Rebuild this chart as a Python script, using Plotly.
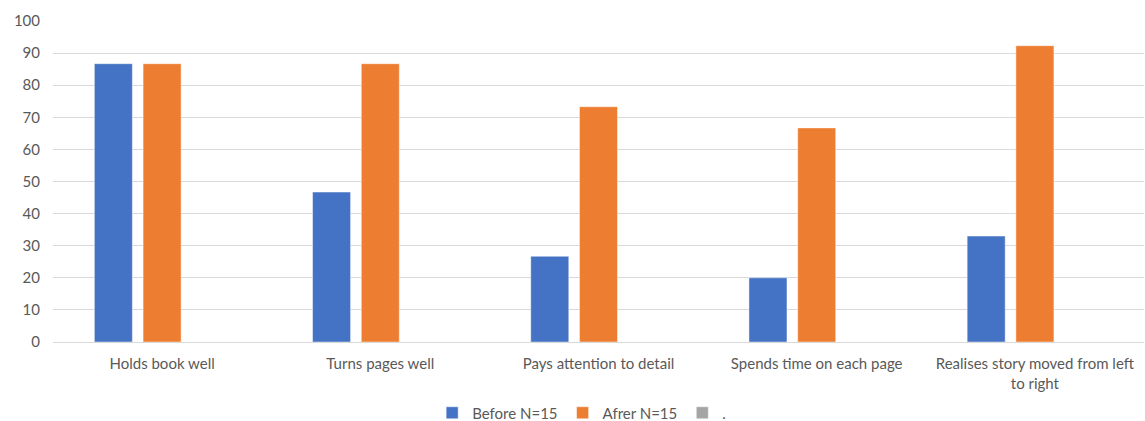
import plotly.graph_objects as go

categories = ["Holds book well", "Turns pages well", "Pays attention to detail",
              "Spends time on each page", "Realises story moved from left<br>to right"]
before = [86.7, 46.7, 26.7, 20, 33]
after = [86.7, 86.7, 73.3, 66.7, 92.3]
blank = [None, None, None, None, None]

font_fam = "Lato, 'Open Sans', sans-serif"
grey = "#595959"
edge = dict(width=1, color="rgba(255,255,255,0.45)")

fig = go.Figure()
fig.add_trace(go.Bar(x=categories, y=before, name="Before N=15", marker=dict(color="#4472C4", line=edge)))
fig.add_trace(go.Bar(x=categories, y=after, name="Afrer N=15", marker=dict(color="#ED7D31", line=edge)))
fig.add_trace(go.Bar(x=categories, y=blank, name=".", marker=dict(color="#A5A5A5", line=edge)))

fig.update_layout(
    width=1145, height=421,
    margin=dict(l=53, r=1, t=21, b=79, autoexpand=False),
    barmode="group", bargap=0.33, bargroupgap=0.22,
    plot_bgcolor="white", paper_bgcolor="white",
    font=dict(family=font_fam, size=15, color=grey),
    showlegend=True,
    legend=dict(orientation="h", x=0.508, xanchor="center", xref="container",
                y=0.019, yanchor="middle", yref="container",
                font=dict(size=15, color=grey), itemwidth=30, traceorder="normal"),
    xaxis=dict(showline=True, linecolor="#D9D9D9", linewidth=1, ticks="",
               tickfont=dict(size=15, color=grey), ticklabelstandoff=8),
    yaxis=dict(range=[0, 100], dtick=10, showgrid=True, gridcolor="#D9D9D9", gridwidth=1,
               zeroline=False, ticks="", tickfont=dict(size=15, color=grey), ticklabelstandoff=12),
)
fig.write_html("out.html")
